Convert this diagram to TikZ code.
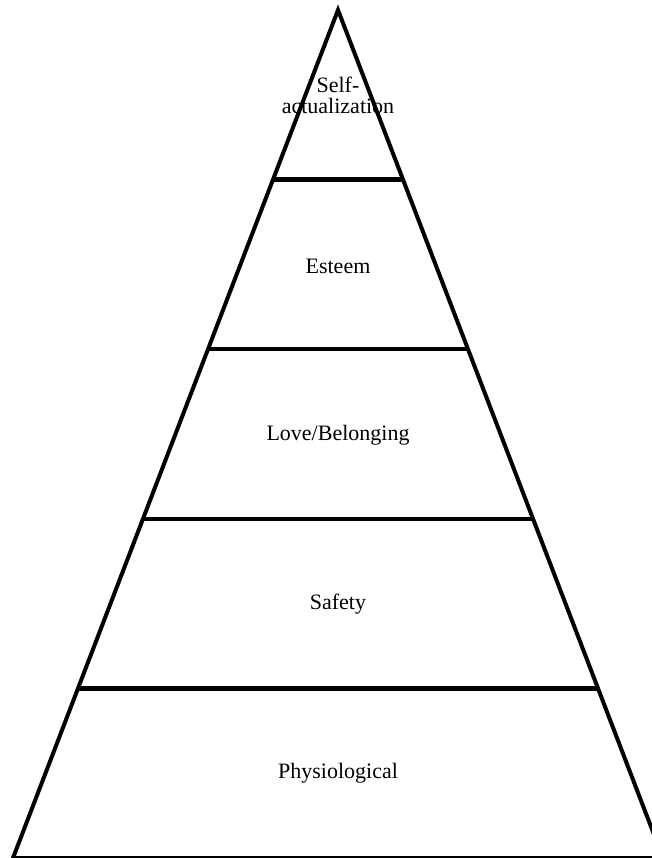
\documentclass[tikz,border=0pt]{standalone}
\usepackage{fontspec}
\setmainfont{Liberation Serif}
\usetikzlibrary{calc}
\begin{document}
\begin{tikzpicture}[x=1pt,y=-1pt,
  edge/.style={line width=4pt,line join=miter},
  tierline/.style={line width=4.5pt,line cap=butt},
  tiertext/.style={font=\fontsize{22}{22}\selectfont,align=center,inner sep=0pt}]
  \useasboundingbox (0,0) rectangle (652,858);
  \clip (0,0) rectangle (652,858);
  % outline of the pyramid
  \coordinate (apex) at (338,10);
  \coordinate (bl) at (13,858);
  \coordinate (br) at (663,858);
  % tier divisions
  \foreach \i/\t in {1/0.2,2/0.4,3/0.6,4/0.8}{
    \coordinate (l\i) at ($(apex)!\t!(bl)$);
    \coordinate (r\i) at ($(apex)!\t!(br)$);
  }
  \foreach \i in {1,...,4}{\draw[tierline] (l\i) -- (r\i);}
  \draw[edge] (bl) -- (apex) -- (br) -- cycle;
  % tier labels
  \node[tiertext] (self) at (338,95) {Self-\\[-1pt]actualization};
  \node[tiertext] (esteem) at (338,266) {Esteem};
  \node[tiertext] (love) at (338,435) {Love/Belonging};
  \node[tiertext] (safety) at (338,604) {Safety};
  \node[tiertext] (phys) at (338,773) {Physiological};
\end{tikzpicture}
\end{document}
